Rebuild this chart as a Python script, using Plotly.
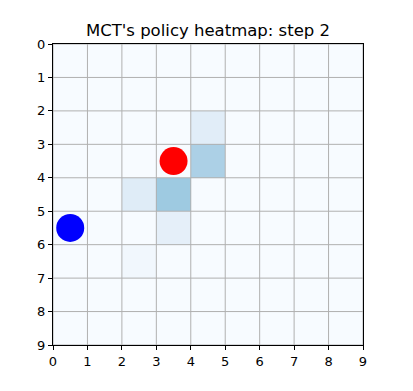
import plotly.graph_objects as go

# policy values per cell (row = y, col = x)
grid_size = 9
cells = [  # (x, y, value)
    (4, 2, 0.11),
    (4, 3, 0.33),
    (2, 4, 0.12),
    (3, 4, 0.375),
    (3, 5, 0.09),
    (2, 6, 0.03),
]
agent_red = (3.5, 3.5)
agent_blue = (0.5, 5.5)
ticks = list(range(10))

z = [[0.0] * grid_size for _ in range(grid_size)]
for cx, cy, v in cells:
    z[cy][cx] = v

blues = [[0.0, "#f7fbff"], [0.125, "#deebf7"], [0.25, "#c6dbef"], [0.375, "#9ecae1"],
         [0.5, "#6baed6"], [0.625, "#4292c6"], [0.75, "#2171b5"], [0.875, "#08519c"],
         [1.0, "#08306b"]]

fig = go.Figure()
fig.add_trace(go.Heatmap(
    z=z, x=[i + 0.5 for i in range(grid_size)], y=[i + 0.5 for i in range(grid_size)],
    colorscale=blues, zmin=0, zmax=1, showscale=False, hoverinfo="skip"))

# grid lines drawn above the heatmap
gx, gy = [], []
for t in ticks:
    gx += [t, t, None]
    gy += [0, grid_size, None]
    gx += [0, grid_size, None]
    gy += [t, t, None]
fig.add_trace(go.Scatter(x=gx, y=gy, mode="lines", line=dict(color="#b0b0b0", width=1),
                         hoverinfo="skip", showlegend=False))

fig.add_trace(go.Scatter(x=[agent_red[0]], y=[agent_red[1]], mode="markers",
                         marker=dict(color="#ff0000", size=28), showlegend=False))
fig.add_trace(go.Scatter(x=[agent_blue[0]], y=[agent_blue[1]], mode="markers",
                         marker=dict(color="#0000ff", size=28), showlegend=False))

axis_common = dict(
    tickvals=ticks, ticktext=[str(t) for t in ticks],
    showgrid=False,
    showline=True, linecolor="black", linewidth=1, mirror=True,
    ticks="outside", ticklen=4, tickcolor="black",
    zeroline=False,
    tickfont=dict(family="DejaVu Sans", size=13, color="black"),
)
fig.update_xaxes(range=[0, 9], **axis_common)
fig.update_yaxes(range=[9, 0], **axis_common)

W, H = 405, 383
fig.update_layout(
    width=W, height=H,
    margin=dict(l=45, r=50, t=36, b=46),
    paper_bgcolor="white", plot_bgcolor="white",
    title=dict(text="MCT's policy heatmap: step 2", x=(45 + 155) / W, xanchor="center",
               y=1 - 22 / H, yanchor="middle",
               font=dict(family="DejaVu Sans", size=16.5, color="black")),
    showlegend=False,
)
fig.write_html("out.html")
